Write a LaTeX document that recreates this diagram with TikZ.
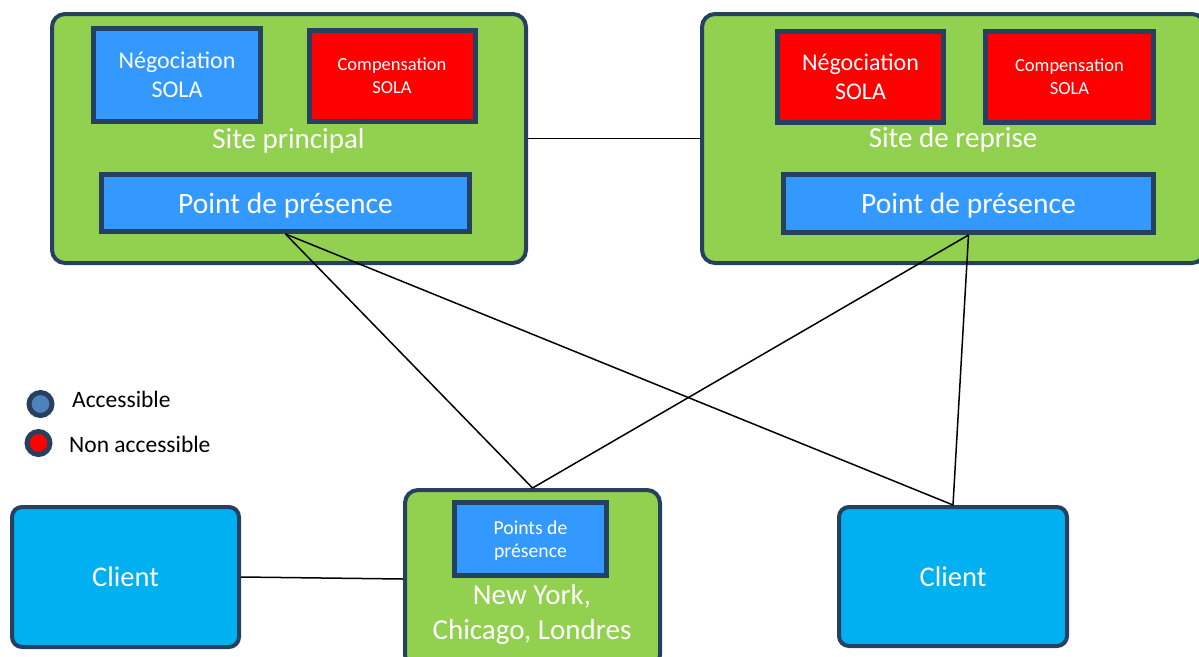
\documentclass[tikz,border=0pt]{standalone}
\usepackage{fontspec}
\setmainfont{Carlito}
\usepackage{tikz}

\definecolor{siteGreen}{HTML}{92D050}
\definecolor{navyBorder}{RGB}{38,64,96}
\definecolor{okBlue}{HTML}{3399FF}
\definecolor{koRed}{HTML}{FF0000}
\definecolor{clientBlue}{HTML}{00B0F0}
\definecolor{dotBlue}{HTML}{4F81BD}

\begin{document}
\begin{tikzpicture}[x=1pt, y=-1pt,
        site_style/.style={rectangle,rounded corners=13pt,draw=navyBorder,line width=4pt,fill=siteGreen},
        ok_style/.style={rectangle,draw=navyBorder,line width=5pt,fill=okBlue,text=white,align=center,inner sep=0pt},
        ko_style/.style={ok_style,fill=koRed},
        client_style/.style={rectangle,rounded corners=10pt,draw=navyBorder,line width=4pt,fill=clientBlue,text=white,font=\fontsize{28.5}{34}\selectfont},
        label_style/.style={text=white,align=center,inner sep=0pt},
        dot_style/.style={circle,draw=navyBorder,line width=5pt,minimum size=23pt,inner sep=0pt},
        legend_style/.style={anchor=base west,inner sep=0pt,font=\fontsize{23.5}{28}\selectfont},
        edge_style/.style={draw=black,line width=1.5pt,-}]
        \useasboundingbox (0,0) rectangle (1199,656);

        % sites
        \node [site_style,minimum width=474pt,minimum height=249pt](sp) at (289,138.5) {};
        \node [site_style,minimum width=503pt,minimum height=249pt](sr) at (953.5,138.5) {};
        \node [ok_style,minimum width=167pt,minimum height=93pt,font=\fontsize{24}{29}\selectfont](neg1) at (177,74.5) {Négociation\\SOLA};
        \node [ko_style,minimum width=166pt,minimum height=91pt,font=\fontsize{18.5}{23}\selectfont](comp1) at (392,76) {Compensation\\SOLA};
        \node [ko_style,minimum width=166pt,minimum height=91pt,font=\fontsize{24}{29}\selectfont](neg2) at (860.5,77) {Négociation\\SOLA};
        \node [ko_style,minimum width=168pt,minimum height=91pt,font=\fontsize{18.5}{23}\selectfont](comp2) at (1069.5,77) {Compensation\\SOLA};
        \node [label_style,anchor=base,font=\fontsize{29}{34}\selectfont](sp_label) at (288.5,148) {Site principal};
        \node [label_style,anchor=base,font=\fontsize{29}{34}\selectfont](sr_label) at (953,147) {Site de reprise};
        \node [ok_style,minimum width=368pt,minimum height=57pt,text depth=0pt,font=\fontsize{29.5}{34}\selectfont](pp1) at (285.5,203) {Point de présence};
        \node [ok_style,minimum width=370pt,minimum height=58pt,text depth=0pt,font=\fontsize{29.5}{34}\selectfont](pp2) at (968.5,203.5) {Point de présence};

        % bas
        \node [client_style,minimum width=227pt,minimum height=140pt](cl1) at (125.5,577) {Client};
        \node [client_style,minimum width=228pt,minimum height=139pt](cl2) at (953,576.5) {Client};
        \node [site_style,minimum width=255pt,minimum height=178pt](ny) at (532.5,579) {};
        \node [ok_style,minimum width=152pt,minimum height=73pt,text depth=0pt,font=\fontsize{19.7}{23}\selectfont](pp3) at (530.5,539) {Points de\\présence};
        \node [label_style,font=\fontsize{29}{35}\selectfont](ny_label) at (532,614) {New York,\\Chicago, Londres};

        % legende
        \node [dot_style,fill=dotBlue](dot_ok) at (40.5,404) {};
        \node [dot_style,fill=koRed](dot_ko) at (38.5,443) {};
        \node [legend_style](txt_ok) at (72,407) {Accessible};
        \node [legend_style](txt_ko) at (69,452) {Non accessible};

        \draw [edge_style] (sp.east) -- (sr.west);
        \draw [edge_style] (pp1.south) -- (ny.north);
        \draw [edge_style] (pp1.south) -- (cl2.north);
        \draw [edge_style] (pp2.south) -- (ny.north);
        \draw [edge_style] (pp2.south) -- (cl2.north);
        \draw [edge_style] (cl1.east) -- (ny.west);
\end{tikzpicture}
\end{document}
